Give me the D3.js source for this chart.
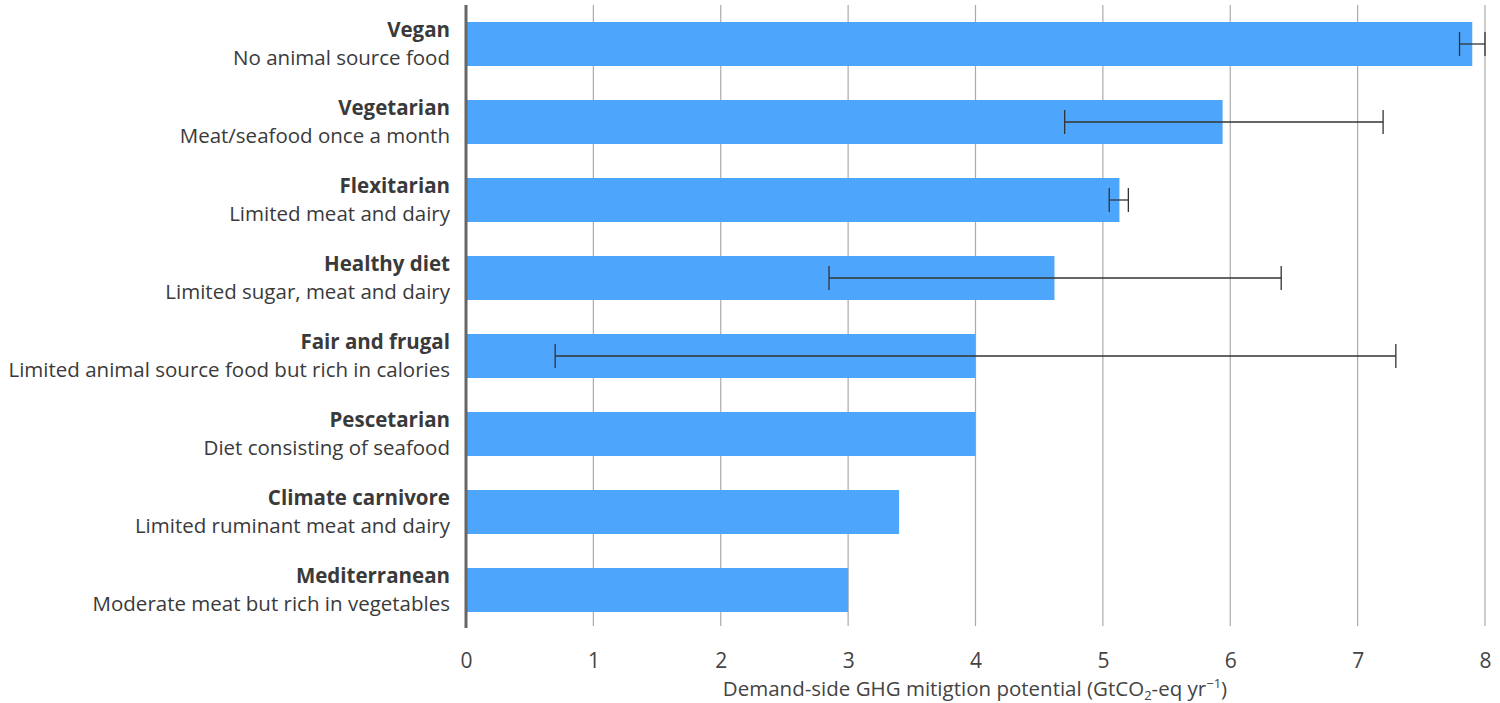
<!DOCTYPE html>
<html><head><meta charset="utf-8">
<script src="https://cdn.jsdelivr.net/npm/d3@7"></script>
<style>body{margin:0;background:#fff;} svg{display:block;}</style>
</head><body>
<script>
const diets = ["Vegan","Vegetarian","Flexitarian","Healthy diet","Fair and frugal","Pescetarian","Climate carnivore","Mediterranean"];
const descriptions = ["No animal source food","Meat/seafood once a month","Limited meat and dairy","Limited sugar, meat and dairy","Limited animal source food but rich in calories","Diet consisting of seafood","Limited ruminant meat and dairy","Moderate meat but rich in vegetables"];
const potential = [7.9, 5.94, 5.13, 4.62, 4.0, 4.0, 3.4, 3.0];
const errLow = [7.8, 4.7, 5.05, 2.85, 0.7, null, null, null];
const errHigh = [8.0, 7.2, 5.2, 6.4, 7.3, null, null, null];
const xTicks = [0,1,2,3,4,5,6,7,8];

const W = 1500, H = 703;
const svg = d3.select("body").append("svg").attr("width", W).attr("height", H);
const font = "'Open Sans', 'Noto Sans', sans-serif";

const x = d3.scaleLinear().domain([0, 8]).range([466, 1485]);
const y = d3.scaleBand().domain(diets).range([5, 629]).paddingInner(0.436).paddingOuter(0.218);

// gridlines
svg.append("g").selectAll("line").data(xTicks.slice(1)).join("line")
  .attr("x1", d => x(d)).attr("x2", d => x(d))
  .attr("y1", 5).attr("y2", 626)
  .attr("stroke", "#aaaaaa").attr("stroke-width", 1.2);

// bars
svg.append("g").selectAll("rect").data(diets).join("rect")
  .attr("x", x(0)).attr("y", d => y(d))
  .attr("width", (d, i) => x(potential[i]) - x(0))
  .attr("height", y.bandwidth())
  .attr("fill", "#4ea6fc");

// error bars
const eb = svg.append("g").attr("stroke", "#333").attr("stroke-width", 1.3);
diets.forEach((d, i) => {
  if (errLow[i] == null) return;
  const cy = y(d) + y.bandwidth() / 2;
  eb.append("line").attr("x1", x(errLow[i])).attr("x2", x(errHigh[i])).attr("y1", cy).attr("y2", cy);
  [errLow[i], errHigh[i]].forEach(v => {
    eb.append("line").attr("x1", x(v)).attr("x2", x(v)).attr("y1", cy - 12).attr("y2", cy + 12);
  });
});

// x axis
const xAxis = d3.axisBottom(x).tickValues(xTicks).tickSize(0).tickPadding(24);
const gx = svg.append("g").attr("transform", "translate(0,629)").call(xAxis);
gx.select(".domain").remove();
gx.selectAll("text").attr("font-family", font).attr("font-size", 21).attr("fill", "#444");

// left axis line
svg.append("line").attr("x1", x(0)).attr("x2", x(0)).attr("y1", 5).attr("y2", 628)
  .attr("stroke", "#666").attr("stroke-width", 3);

// y labels
const lab = svg.append("g").attr("font-family", font).attr("fill", "#3a3a3a").attr("text-anchor", "end");
diets.forEach((d, i) => {
  const top = y(d);
  lab.append("text").attr("x", 450).attr("y", top + 15).attr("font-size", 20.5).attr("font-weight", "bold").text(d);
  lab.append("text").attr("x", 450).attr("y", top + 43).attr("font-size", 20.5).text(descriptions[i]);
});

// axis title
const t = svg.append("text").attr("x", 975).attr("y", 696).attr("text-anchor", "middle")
  .attr("font-family", font).attr("font-size", 20.5).attr("fill", "#444");
t.append("tspan").text("Demand-side GHG mitigtion potential (GtCO");
t.append("tspan").attr("font-size", 13).attr("dy", 4).text("2");
t.append("tspan").attr("dy", -4).text("-eq yr");
t.append("tspan").attr("font-size", 13).attr("dy", -8).text("−1");
t.append("tspan").attr("dy", 8).text(")");
</script>
</body></html>
